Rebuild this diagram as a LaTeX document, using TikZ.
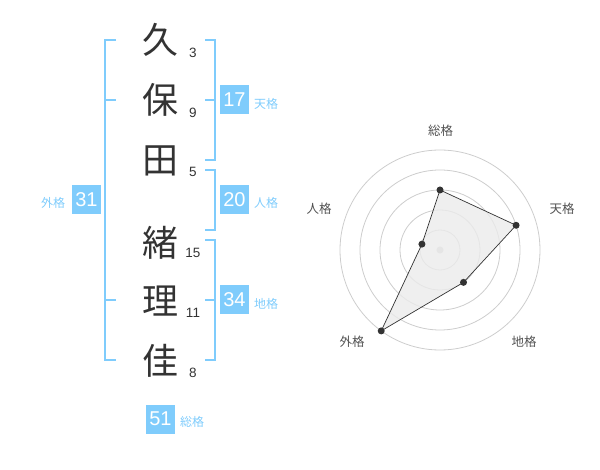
\documentclass[tikz,border=0pt]{standalone}
\usepackage{fontspec}
\setmainfont{Liberation Sans}
\newfontfamily\jpfont{Noto Sans CJK JP}
\definecolor{kakublue}{RGB}{127,204,252}
\definecolor{inkgray}{RGB}{51,51,51}
\definecolor{ringgray}{RGB}{205,205,205}
\begin{document}
\begin{tikzpicture}[x=1pt,y=-1pt,
    kanji/.style={font=\jpfont\fontsize{36}{36}\selectfont,text=inkgray,inner sep=0pt},
    strokes/.style={font=\fontsize{13.5}{13.5}\selectfont,text=inkgray,inner sep=0pt},
    numbox/.style={fill=kakublue,text=white,minimum size=29pt,inner sep=0pt,font=\fontsize{20}{20}\selectfont},
    kaku/.style={font=\jpfont\fontsize{12}{12}\selectfont,text=kakublue,inner sep=0pt},
    bracket/.style={draw=kakublue,line width=2pt},
    ring/.style={draw=ringgray,line width=0.8pt},
    axis label/.style={font=\jpfont\fontsize{12.5}{12.5}\selectfont,text=inkgray!85,inner sep=0pt},
    point/.style={circle,fill=inkgray,inner sep=0pt,minimum size=7pt}]
    \useasboundingbox (0,0) rectangle (600,470);
    % name
    \node[kanji] (k1) at (160,40) {久};
    \node[kanji] (k2) at (160,100) {保};
    \node[kanji] (k3) at (160,161) {田};
    \node[kanji] (k4) at (160,243) {緒};
    \node[kanji] (k5) at (160,301) {理};
    \node[kanji] (k6) at (160,361) {佳};
    \node[strokes] (s1) at (193,53) {3};
    \node[strokes] (s2) at (193,113) {9};
    \node[strokes] (s3) at (193,172) {5};
    \node[strokes] (s4) at (193,253) {15};
    \node[strokes] (s5) at (193,313) {11};
    \node[strokes] (s6) at (193,373) {8};
    % brackets
    \draw[bracket] (116,40) -- (105,40) -- (105,360) -- (116,360);
    \draw[bracket] (105,100) -- (116,100) (105,300) -- (116,300);
    \draw[bracket] (205,40) -- (215,40) -- (215,160) -- (205,160) (205,100) -- (215,100);
    \draw[bracket] (205,170) -- (215,170) -- (215,230) -- (205,230);
    \draw[bracket] (205,240) -- (215,240) -- (215,360) -- (205,360) (205,300) -- (215,300);
    % kaku values
    \node[numbox] (ten) at (234.5,100) {17};
    \node[kaku] (tenl) at (266,104) {天格};
    \node[numbox] (jin) at (234.5,200) {20};
    \node[kaku] (jinl) at (266,203) {人格};
    \node[numbox] (chi) at (234.5,300) {34};
    \node[kaku] (chil) at (266,304) {地格};
    \node[numbox] (gai) at (86.5,200) {31};
    \node[kaku] (gail) at (53,203) {外格};
    \node[numbox] (sou) at (160.5,419) {51};
    \node[kaku] (soul) at (192,422) {総格};
    % radar
    \begin{scope}[shift={(440,250)}]
        \foreach \r in {20,40,...,100}
            \draw[ring] (0,0) circle[radius=\r pt];
        \fill[ringgray] (0,0) circle[radius=3.5pt];
        \coordinate (r1) at (90:60pt);
        \coordinate (r2) at (18:80pt);
        \coordinate (r3) at (-54:40pt);
        \coordinate (r4) at (-126:100pt);
        \coordinate (r5) at (162:19pt);
        \path[fill=black!8,fill opacity=0.8,draw=inkgray,line width=0.7pt] (r1) -- (r2) -- (r3) -- (r4) -- (r5) -- cycle;
        \foreach \i in {1,...,5}
            \node[point] (p\i) at (r\i) {};
    \end{scope}
    \node[axis label] (a1) at (440.5,131) {総格};
    \node[axis label] (a2) at (562,209) {天格};
    \node[axis label] (a3) at (524,342) {地格};
    \node[axis label] (a4) at (352,342) {外格};
    \node[axis label] (a5) at (319,209) {人格};
\end{tikzpicture}
\end{document}
